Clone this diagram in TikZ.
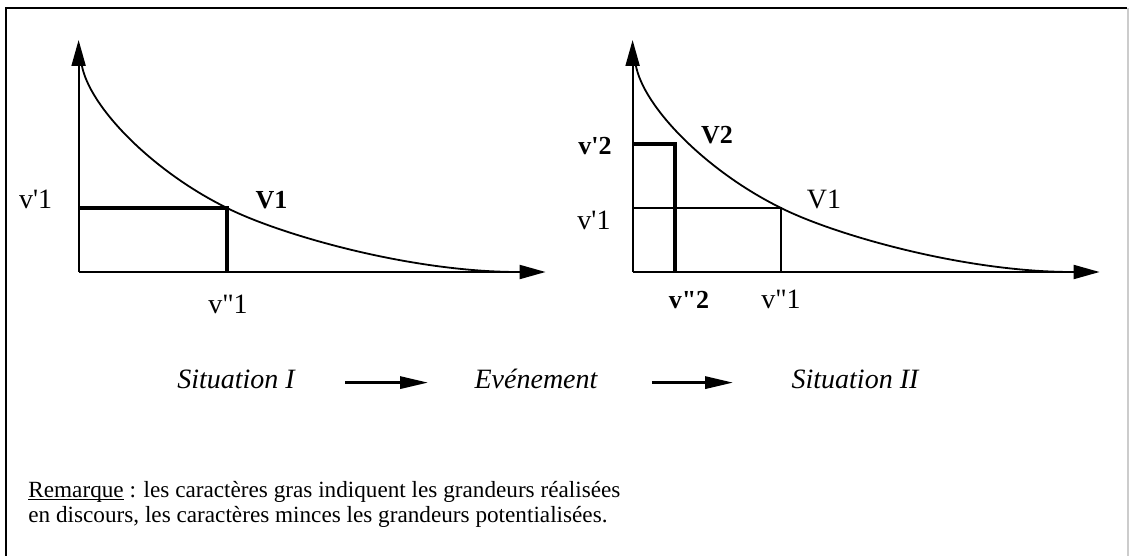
\documentclass[tikz,border=0pt]{standalone}
\usepackage{fontspec}
\setmainfont{Liberation Serif}[Ligatures=TeXOff]
\usetikzlibrary{arrows.meta,positioning}
\tikzset{
  axis/.style={line width=1pt,-{Triangle[length=13pt,width=7pt]}},
  curve/.style={line width=0.9pt},
  thinline/.style={line width=1pt},
  thickline/.style={line width=2pt},
  lbl/.style={inner sep=0pt,anchor=base,font=\fontsize{14}{16}\selectfont},
  boldlbl/.style={lbl,font=\fontsize{13}{15}\selectfont\bfseries},
  stage/.style={inner sep=0pt,anchor=base,font=\fontsize{14}{16}\selectfont\itshape},
  flow/.style={line width=1.5pt,-{Triangle[length=14pt,width=6pt]}},
  remark/.style={inner sep=0pt,anchor=base west,font=\fontsize{11.6}{13}\selectfont}
}
\begin{document}
\begin{tikzpicture}[x=0.5pt,y=-0.5pt]
  \useasboundingbox (0,0) rectangle (1129,556);
  % cadre
  \draw[line width=1.2pt] (6,556) -- (6,8) -- (1127,8);
  \draw[black!20,line width=0.6pt] (1128,8) -- (1128,556);
  % axes et courbes
  \foreach \ox in {78.6,632.6}{
    \draw[axis] (\ox,272) -- ++(0,-232);
    \draw[axis] (\ox,272) -- ++(467,0);
    \draw[curve,shift={(\ox,272)}] (3,-208) .. controls (10,-165) and (75,-100) .. (148.5,-64)
      .. controls (200,-38) and (330,0) .. (440,0);
  }
  % situation I
  \draw[thickline] (78.6,208) -- (227,208) -- (227,272);
  \node[lbl] (vp1a) at (35.7,208) {v'1};
  \node[boldlbl] (V1a) at (271.5,208) {V1};
  \node[lbl] (vs1a) at (228,313) {v"1};
  % situation II
  \draw[thinline] (632.6,208) -- (781.1,208) -- (781.1,272);
  \draw[thickline] (632.6,144) -- (675,144) -- (675,272);
  \node[boldlbl] (vp2b) at (595,155) {v'2};
  \node[boldlbl] (V2b) at (717,143) {V2};
  \node[lbl] (V1b) at (824,208) {V1};
  \node[lbl] (vp1b) at (594,229) {v'1};
  \node[boldlbl] (vs2b) at (689,308) {v"2};
  \node[lbl] (vs1b) at (781,308) {v"1};
  % enchainement
  \node[stage] (sit1) at (236,388) {Situation I};
  \node[stage] (event) at (536,388) {Evénement};
  \node[stage] (sit2) at (855,388) {Situation II};
  \draw[flow,shorten <=25pt,shorten >=23pt] ([yshift=2.7pt]sit1.base east) -- ([yshift=2.7pt]event.base west);
  \draw[flow,shorten <=27pt,shorten >=29pt] ([yshift=2.7pt]event.base east) -- ([yshift=2.7pt]sit2.base west);
  % remarque
  \node[remark] (rem) at (28,497) {\underline{\smash{Remarque}} : les caractères gras indiquent les grandeurs réalisées};
  \node[remark] (rem2) at (28,522) {en discours, les caractères minces les grandeurs potentialisées.};
\end{tikzpicture}
\end{document}
